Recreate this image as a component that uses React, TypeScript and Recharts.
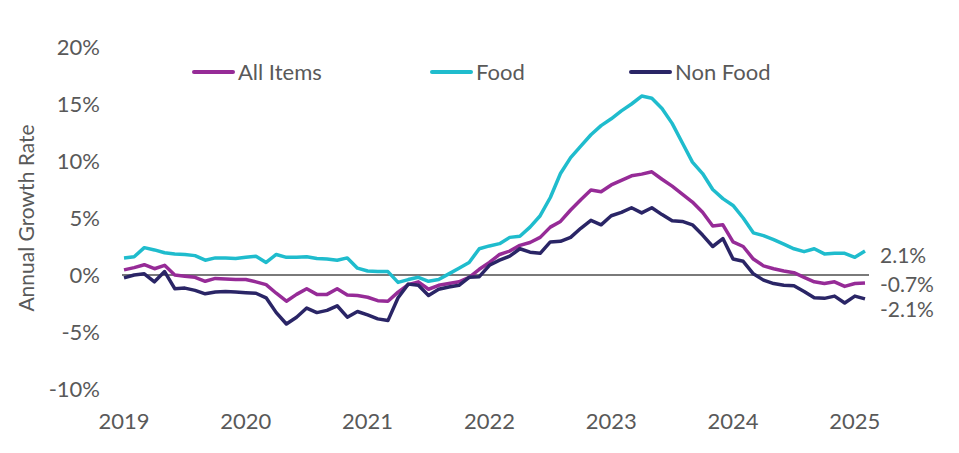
import { Label, Line, LineChart, ReferenceLine, XAxis, YAxis } from "recharts";

// Monthly annual growth rates (%), Jan 2019 – Feb 2025
const months = [
  "2019-01", "2019-02", "2019-03", "2019-04", "2019-05", "2019-06", "2019-07", "2019-08", "2019-09", "2019-10", "2019-11", "2019-12",
  "2020-01", "2020-02", "2020-03", "2020-04", "2020-05", "2020-06", "2020-07", "2020-08", "2020-09", "2020-10", "2020-11", "2020-12",
  "2021-01", "2021-02", "2021-03", "2021-04", "2021-05", "2021-06", "2021-07", "2021-08", "2021-09", "2021-10", "2021-11", "2021-12",
  "2022-01", "2022-02", "2022-03", "2022-04", "2022-05", "2022-06", "2022-07", "2022-08", "2022-09", "2022-10", "2022-11", "2022-12",
  "2023-01", "2023-02", "2023-03", "2023-04", "2023-05", "2023-06", "2023-07", "2023-08", "2023-09", "2023-10", "2023-11", "2023-12",
  "2024-01", "2024-02", "2024-03", "2024-04", "2024-05", "2024-06", "2024-07", "2024-08", "2024-09", "2024-10", "2024-11", "2024-12",
  "2025-01", "2025-02",
];

const allItems = [
  0.45, 0.65, 0.9, 0.55, 0.85, 0.0, -0.1, -0.2, -0.55, -0.3, -0.35, -0.4,
  -0.4, -0.6, -0.85, -1.6, -2.3, -1.7, -1.2, -1.7, -1.7, -1.2, -1.75, -1.8,
  -1.95, -2.25, -2.3, -1.5, -0.85, -0.6, -1.25, -0.9, -0.75, -0.6, -0.2, 0.5,
  1.1, 1.8, 2.1, 2.6, 2.85, 3.3, 4.2, 4.7, 5.7, 6.6, 7.45, 7.3,
  7.9, 8.3, 8.7, 8.85, 9.05, 8.4, 7.8, 7.1, 6.4, 5.5, 4.3, 4.4,
  2.9, 2.5, 1.4, 0.8, 0.55, 0.35, 0.2, -0.2, -0.6, -0.75, -0.6, -1.0,
  -0.75, -0.7,
];

const food = [
  1.5, 1.6, 2.4, 2.2, 1.95, 1.85, 1.8, 1.7, 1.3, 1.5, 1.5, 1.45,
  1.55, 1.65, 1.1, 1.8, 1.55, 1.55, 1.6, 1.45, 1.4, 1.3, 1.5, 0.6,
  0.35, 0.3, 0.3, -0.65, -0.4, -0.2, -0.55, -0.4, 0.1, 0.6, 1.1, 2.3,
  2.55, 2.75, 3.3, 3.4, 4.2, 5.2, 6.8, 8.9, 10.3, 11.3, 12.3, 13.1,
  13.7, 14.4, 15.0, 15.7, 15.5, 14.6, 13.3, 11.6, 9.9, 8.9, 7.5, 6.7,
  6.1, 5.0, 3.7, 3.45, 3.1, 2.7, 2.3, 2.05, 2.3, 1.85, 1.9, 1.9,
  1.55, 2.1,
];

const nonFood = [
  -0.25, 0.0, 0.1, -0.6, 0.3, -1.2, -1.15, -1.35, -1.65, -1.5, -1.45, -1.5,
  -1.55, -1.6, -2.0, -3.3, -4.3, -3.7, -2.9, -3.3, -3.1, -2.7, -3.7, -3.2,
  -3.5, -3.85, -4.0, -2.0, -0.8, -0.9, -1.8, -1.25, -1.05, -0.9, -0.2, -0.15,
  0.85, 1.3, 1.65, 2.3, 2.0, 1.9, 2.9, 2.95, 3.3, 4.1, 4.8, 4.4,
  5.2, 5.5, 5.9, 5.45, 5.9, 5.3, 4.75, 4.7, 4.4, 3.5, 2.5, 3.2,
  1.4, 1.2, 0.1, -0.45, -0.75, -0.9, -0.95, -1.45, -2.0, -2.05, -1.85, -2.45,
  -1.85, -2.1,
];

const yearTicks = ["2019-01", "2020-01", "2021-01", "2022-01", "2023-01", "2024-01", "2025-01"];
const yTicks = [-10, -5, 0, 5, 10, 15, 20];

const series = [
  { key: "allItems", name: "All Items", color: "#962b97", endLabel: "-0.7%", labelDy: 1 },
  { key: "food", name: "Food", color: "#1fbccd", endLabel: "2.1%", labelDy: 3 },
  { key: "nonFood", name: "Non Food", color: "#2a2566", endLabel: "-2.1%", labelDy: 10 },
];

const data = months.map((month, i) => ({
  month,
  allItems: allItems[i],
  food: food[i],
  nonFood: nonFood[i],
}));

const FONT = "Lato, 'Open Sans', sans-serif";
const TEXT = "#595959";
const legendLeft = [192, 430, 629];

function endLabel(text: string, dy: number) {
  return (props: any) => {
    if (props.index !== data.length - 1) return null;
    return (
      <text
        x={props.x + 15}
        y={props.y + dy}
        dominantBaseline="central"
        fill={TEXT}
        fontFamily={FONT}
        fontSize={21}
      >
        {text}
      </text>
    );
  };
}

export default function App() {
  return (
    <div
      style={{
        position: "absolute",
        left: 0,
        top: 0,
        width: 959,
        height: 453,
        background: "#fff",
        fontFamily: FONT,
      }}
    >
      {series.map((s, i) => (
        <div
          key={s.key}
          style={{
            position: "absolute",
            left: legendLeft[i],
            top: 58,
            display: "flex",
            alignItems: "center",
            color: TEXT,
            fontSize: 22,
            lineHeight: "28px",
          }}
        >
          <span
            style={{
              display: "inline-block",
              width: 43,
              height: 4,
              borderRadius: 2,
              background: s.color,
              marginRight: 3,
            }}
          />
          {s.name}
        </div>
      ))}
      <LineChart
        width={959}
        height={453}
        data={data}
        margin={{ top: 47, right: 90, bottom: 14, left: 0 }}
      >
        <XAxis
          dataKey="month"
          ticks={yearTicks}
          interval={0}
          tickFormatter={(v: string) => v.slice(0, 4)}
          axisLine={false}
          tickLine={false}
          tickSize={0}
          tickMargin={24}
          height={50}
          padding={{ left: 2, right: 4 }}
          tick={{ fill: TEXT, fontFamily: FONT, fontSize: 22 }}
        />
        <YAxis
          type="number"
          domain={[-10, 20]}
          ticks={yTicks}
          interval={0}
          width={122}
          axisLine={false}
          tickLine={false}
          tickSize={0}
          tickMargin={22}
          tickFormatter={(v: number) => `${v}%`}
          tick={{ fill: TEXT, fontFamily: FONT, fontSize: 22 }}
        >
          <Label
            content={({ viewBox }: any) => {
              const cy = viewBox.y + viewBox.height / 2;
              return (
                <text
                  x={25}
                  y={cy}
                  transform={`rotate(-90 25 ${cy})`}
                  textAnchor="middle"
                  dominantBaseline="central"
                  fill={TEXT}
                  fontFamily={FONT}
                  fontSize={21}
                >
                  Annual Growth Rate
                </text>
              );
            }}
          />
        </YAxis>
        <ReferenceLine y={0} stroke="#7a7a7a" strokeWidth={2} ifOverflow="extendDomain" />
        {series.map((s) => (
          <Line
            key={s.key}
            type="linear"
            dataKey={s.key}
            name={s.name}
            stroke={s.color}
            strokeWidth={3.5}
            strokeLinejoin="round"
            dot={false}
            activeDot={false}
            isAnimationActive={false}
            label={endLabel(s.endLabel, s.labelDy)}
          />
        ))}
      </LineChart>
    </div>
  );
}
